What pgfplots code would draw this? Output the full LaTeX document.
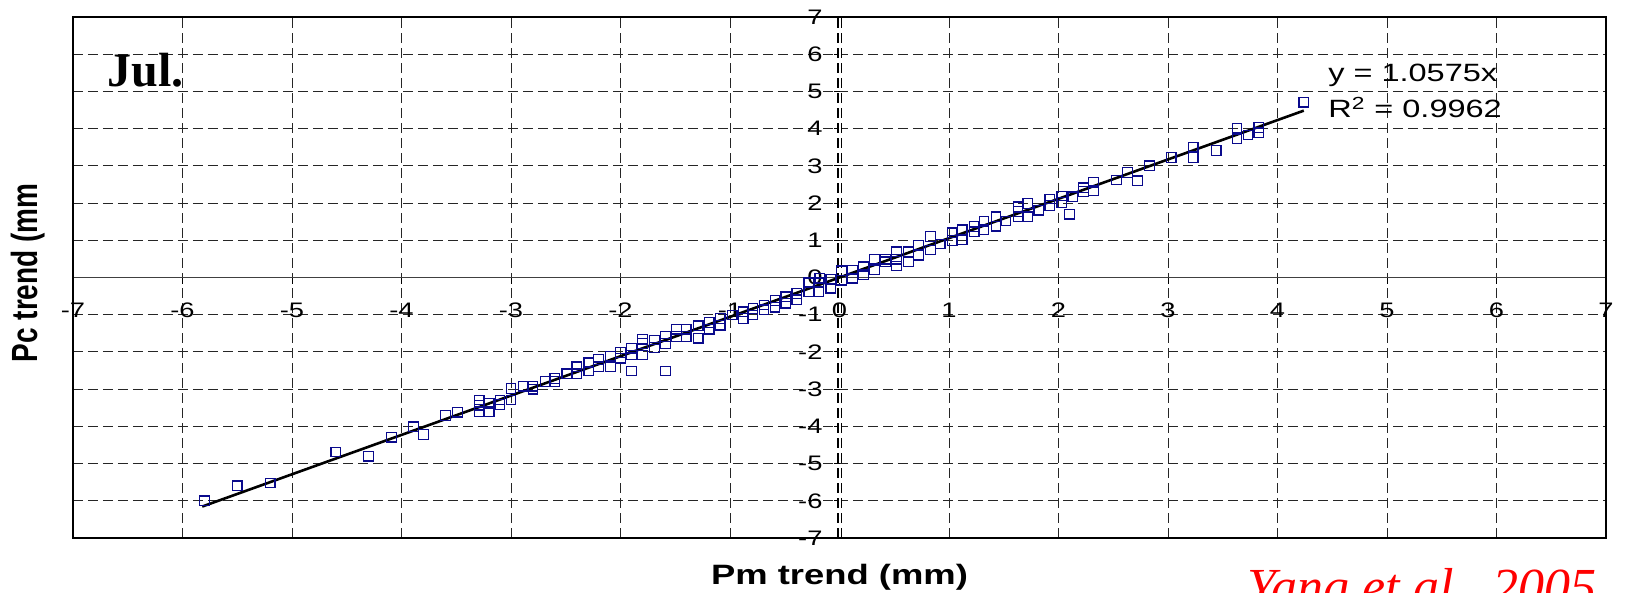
\documentclass[border=0pt]{standalone}
\usepackage{fontspec}
\setmainfont{Liberation Sans}
\newfontfamily\ticksfont[FakeStretch=1.3]{Liberation Sans}
\newfontfamily\plainsans{Liberation Sans}
\newfontfamily\seriffont{Liberation Serif}
\usepackage{graphicx}
\usepackage{pgfplots}
\pgfplotsset{compat=1.18}
\definecolor{markblue}{RGB}{10,10,140}
\newcommand\tl[1]{{\ticksfont\fontsize{10.5}{12}\selectfont #1}}
\begin{document}
\begin{tikzpicture}
\useasboundingbox (-36.5pt,-27.5pt) rectangle (778pt,269pt);
\clip (-36.5pt,-27.5pt) rectangle (778pt,269pt);
\begin{axis}[
  at={(0,0)}, anchor=south west, scale only axis,
  width=766.5pt, height=260.5pt,
  xmin=-7, xmax=7, ymin=-7, ymax=7,
  axis lines=middle,
  axis line style={-},
  x axis line style={draw=black!75, line width=0.8pt},
  y axis line style={draw=black, dash pattern=on 5pt off 2.5pt, double=white, double distance=1pt, line width=0.55pt},
  xtick={-7,-6,-5,-4,-3,-2,-1,0,1,2,3,4,5,6,7},
  ytick={-7,-6,-5,-4,-3,-2,-1,0,1,2,3,4,5,6,7},
  xticklabels={\tl{-7},\tl{-6},\tl{-5},\tl{-4},\tl{-3},\tl{-2},\tl{-1},\tl{0},\tl{1},\tl{2},\tl{3},\tl{4},\tl{5},\tl{6},\tl{7}},
  yticklabels={\tl{-7},\tl{-6},\tl{-5},\tl{-4},\tl{-3},\tl{-2},\tl{-1},\tl{0},\tl{1},\tl{2},\tl{3},\tl{4},\tl{5},\tl{6},\tl{7}},
  hide obscured x ticks=false, hide obscured y ticks=false,
  grid=major,
  major grid style={black!85, dash pattern=on 5pt off 2.5pt, line width=0.5pt},
  tick style={black, line width=0.5pt},
  tick align=outside, major tick length=3pt,
  xticklabel style={yshift=-6pt},
  yticklabel style={xshift=-2pt},
  clip=false,
]
\addplot[only marks, mark=square, mark size=2.4pt, mark options={draw=markblue, line width=0.6pt}] coordinates {
(-5.80,-6.00) (-5.50,-5.60) (-5.20,-5.52) (-4.60,-4.69) (-4.30,-4.80)
(-4.09,-4.29) (-3.89,-4.01) (-3.80,-4.22) (-3.60,-3.71) (-3.49,-3.62)
(-3.29,-3.29) (-3.29,-3.43) (-3.29,-3.61) (-3.20,-3.38) (-3.20,-3.61)
(-3.10,-3.29) (-3.10,-3.41) (-3.00,-2.98) (-3.00,-3.29) (-2.89,-2.92)
(-2.80,-2.92) (-2.80,-3.00) (-2.69,-2.80) (-2.60,-2.71) (-2.60,-2.80)
(-2.49,-2.59) (-2.40,-2.40) (-2.40,-2.59) (-2.29,-2.29) (-2.29,-2.51)
(-2.20,-2.20) (-2.20,-2.40) (-2.09,-2.11) (-2.09,-2.40) (-2.00,-2.02)
(-2.00,-2.17) (-1.90,-1.90) (-1.90,-2.08) (-1.90,-2.51) (-1.80,-1.66)
(-1.80,-1.77) (-1.80,-2.08) (-1.69,-1.68) (-1.69,-1.88) (-1.59,-1.59)
(-1.59,-1.77) (-1.59,-2.51) (-1.49,-1.39) (-1.49,-1.59) (-1.40,-1.39)
(-1.40,-1.59) (-1.29,-1.30) (-1.29,-1.63) (-1.19,-1.21) (-1.19,-1.39)
(-1.09,-1.10) (-1.09,-1.28) (-0.98,-1.01) (-0.88,-0.92) (-0.88,-1.10)
(-0.79,-0.83) (-0.79,-1.01) (-0.69,-0.74) (-0.69,-0.87) (-0.59,-0.62)
(-0.59,-0.80) (-0.49,-0.52) (-0.49,-0.69) (-0.39,-0.43) (-0.39,-0.60)
(-0.28,-0.14) (-0.28,-0.38) (-0.19,-0.14) (-0.19,-0.38) (-0.18,-0.02)
(-0.08,-0.05) (-0.08,-0.29) (0.02,0.18) (0.02,-0.07) (0.12,0.20)
(0.12,-0.02) (0.22,0.29) (0.22,0.07) (0.32,0.49) (0.32,0.20)
(0.42,0.49) (0.42,0.42) (0.52,0.69) (0.52,0.49) (0.52,0.31)
(0.63,0.69) (0.63,0.42) (0.72,0.87) (0.72,0.60) (0.83,1.10)
(0.83,0.74) (0.92,0.90) (1.03,1.20) (1.03,0.99) (1.12,1.28)
(1.12,1.01) (1.23,1.37) (1.23,1.23) (1.32,1.50) (1.32,1.28)
(1.43,1.63) (1.43,1.38) (1.52,1.52) (1.63,1.90) (1.63,1.77)
(1.63,1.63) (1.72,1.99) (1.72,1.63) (1.82,1.81) (1.92,2.11)
(1.92,1.93) (2.03,2.19) (2.03,2.02) (2.13,2.17) (2.10,1.70)
(2.23,2.41) (2.23,2.31) (2.32,2.55) (2.32,2.33) (2.53,2.62)
(2.63,2.82) (2.72,2.60) (2.83,3.00) (3.03,3.22) (3.23,3.50)
(3.23,3.22) (3.44,3.41) (3.63,4.01) (3.63,3.72) (3.73,3.83)
(3.83,4.03) (3.83,3.89) (4.24,4.71)
};
\addplot[black, line width=1.3pt] coordinates {(-5.82,-6.155) (4.24,4.484)};
\draw[line width=0.9pt] (rel axis cs:0,0) rectangle (rel axis cs:1,1);
\node[anchor=base west, inner sep=0, font=\ticksfont\fontsize{12.5}{14}\selectfont] at (axis cs:4.46,5.26) {y = 1.0575x};
\node[anchor=base west, inner sep=0, font=\ticksfont\fontsize{12.5}{14}\selectfont] at (axis cs:4.46,4.29) {R\textsuperscript{2} = 0.9962};
\node[anchor=base west, inner sep=0, font=\seriffont\bfseries\fontsize{24}{26}\selectfont] at (axis cs:-6.69,5.12) {Jul.};
\node[anchor=base, inner sep=0, font=\ticksfont\bfseries\fontsize{14}{16}\selectfont] at (axis description cs:0.5,-0.090) {Pm trend (mm)};
\node[rotate=90, anchor=base, inner sep=0, font=\plainsans\bfseries\fontsize{14}{16}\selectfont] at (axis description cs:-0.0230,0.509) {\scalebox{1}[1.3]{Pc trend (mm}};
\node[anchor=base west, inner sep=0, text=red, font=\seriffont\itshape\fontsize{26}{28}\selectfont] at (axis description cs:0.766,-0.127) {Yang et al., 2005};
\end{axis}
\end{tikzpicture}
\end{document}
